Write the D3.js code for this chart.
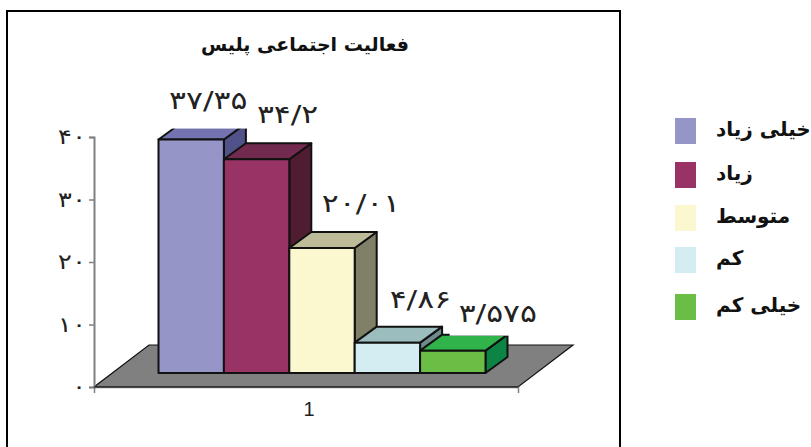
<!DOCTYPE html>
<html>
<head>
<meta charset="utf-8">
<script src="https://cdn.jsdelivr.net/npm/d3@7"></script>
<style>
  html, body { margin: 0; padding: 0; background: #fff; }
  svg { display: block; }
</style>
</head>
<body>
<svg width="811" height="447"></svg>
<script>
const title = 'فعالیت اجتماعی پلیس';
const categories = ['1'];
const series = ['خیلی زیاد', 'زیاد', 'متوسط', 'کم', 'خیلی کم'];
const values = [37.35, 34.2, 20.01, 4.86, 3.575];
const valueLabels = ['۳۷/۳۵', '۳۴/۲', '۲۰/۰۱', '۴/۸۶', '۳/۵۷۵'];
const yTicks = [0, 10, 20, 30, 40];
const yTickLabels = ['۰', '۱۰', '۲۰', '۳۰', '۴۰'];

const frontColors = ['#9595c8', '#993366', '#fbf8cf', '#d3edf3', '#6bbe45'];
const topColors = ['#7373b0', '#732a4f', '#bdbb98', '#9bbdbd', '#2fb34a'];
const sideColors = ['#52528a', '#4f1c32', '#807f68', '#6f8a8c', '#0b8444'];

const svg = d3.select('svg');
const font = '"DejaVu Sans", "Noto Sans", sans-serif';

const y = d3.scaleLinear().domain([0, 40]).range([387, 137]);
const x0 = d3.scaleBand().domain(categories).range([94, 518]);
const x = d3.scaleBand().domain(series).range([158.5, 485.5]);

// 3d offsets: floor depth, bar depth, lift of the bars above the axis
const floorDx = 55, floorDy = -42;
const barDx = 22, barDy = -16;
const lift = 14;

// the digits in the original are wider than DejaVu's, stretch them to fit
const stretch = function (sel, k) {
  sel.each(function () {
    d3.select(this)
      .attr('textLength', this.getComputedTextLength() * k)
      .attr('lengthAdjust', 'spacingAndGlyphs');
  });
};

svg.append('rect')
  .attr('x', 7).attr('y', 11)
  .attr('width', 613).attr('height', 445)
  .attr('fill', '#fff').attr('stroke', '#000').attr('stroke-width', 2);

svg.append('text')
  .attr('x', 305).attr('y', 51)
  .attr('text-anchor', 'middle')
  .attr('font-family', font).attr('font-weight', 'bold').attr('font-size', 19)
  .attr('fill', '#111')
  .text(title);

// floor
const [fx0, fx1] = x0.range();
const fy = y(0);
svg.append('path')
  .attr('d', `M${fx0},${fy}L${fx1},${fy}L${fx1 + floorDx},${fy + floorDy}L${fx0 + floorDx},${fy + floorDy}Z`)
  .attr('fill', '#808080').attr('stroke', '#111').attr('stroke-width', 1.2);

// axes
const axisLeft = d3.axisLeft(y)
  .tickValues(yTicks)
  .tickSize(5)
  .tickFormat((d, i) => yTickLabels[i]);
const gy = svg.append('g').attr('transform', `translate(${fx0},0)`).call(axisLeft);
gy.select('.domain').attr('stroke', '#808080').attr('stroke-width', 2);
gy.selectAll('.tick line').attr('stroke', '#808080').attr('stroke-width', 1.5);
gy.selectAll('.tick text')
  .attr('font-family', font).attr('font-size', 21).attr('fill', '#222')
  .call(stretch, 1.25);

const axisBottom = d3.axisBottom(x0).tickSize(0).tickSizeOuter(6).tickPadding(15);
const gx = svg.append('g').attr('transform', `translate(0,${fy})`).call(axisBottom);
gx.select('.domain').attr('stroke', '#808080').attr('stroke-width', 1.5);
gx.selectAll('.tick text')
  .attr('font-family', '"Liberation Sans", Arial, sans-serif')
  .attr('font-size', 20).attr('fill', '#222').attr('dx', 3);
svg.append('line')
  .attr('x1', fx0).attr('x2', fx1).attr('y1', fy).attr('y2', fy)
  .attr('stroke', '#111').attr('stroke-width', 1.2);

// bars, left to right so each one covers the side of the previous one
const bars = svg.append('g')
  .attr('stroke', '#111').attr('stroke-width', 2).attr('stroke-linejoin', 'round')
  .selectAll('g')
  .data(series)
  .enter()
  .append('g');

const left = d => x(d);
const right = d => x(d) + x.bandwidth();
const top_ = (d, i) => y(values[i]) - lift;
const base = y(0) - lift;

bars.append('path')
  .attr('fill', (d, i) => sideColors[i])
  .attr('d', (d, i) => `M${right(d)},${top_(d, i)}L${right(d) + barDx},${top_(d, i) + barDy}L${right(d) + barDx},${base + barDy}L${right(d)},${base}Z`);
bars.append('path')
  .attr('fill', (d, i) => topColors[i])
  .attr('d', (d, i) => `M${left(d)},${top_(d, i)}L${left(d) + barDx},${top_(d, i) + barDy}L${right(d) + barDx},${top_(d, i) + barDy}L${right(d)},${top_(d, i)}Z`);
bars.append('rect')
  .attr('fill', (d, i) => frontColors[i])
  .attr('x', left)
  .attr('y', top_)
  .attr('width', x.bandwidth())
  .attr('height', (d, i) => base - top_(d, i));

// value labels sit on white boxes that cut into the bars behind them
const labelNudgeX = [17, 31, 39, 33, 45];
const labelNudgeY = [-15, -20, -20, -19, -13];
const boxBelow = [20, 13, 13, 13, 14];
const boxPadLeft = [9, 5, 5, 5, 9];
const labelX = (d, i) => x(d) + x.bandwidth() / 2 + labelNudgeX[i];
const labelY = (d, i) => top_(d, i) + barDy + labelNudgeY[i];

const boxes = svg.append('g');
const labels = svg.append('g').selectAll('text')
  .data(series)
  .enter()
  .append('text')
  .attr('x', labelX)
  .attr('y', labelY)
  .attr('text-anchor', 'middle')
  .attr('direction', 'ltr')
  .attr('font-family', font).attr('font-size', 25)
  .attr('fill', '#222')
  .text((d, i) => valueLabels[i])
  .call(stretch, 1.26);

labels.each(function (d, i) {
  const b = this.getBBox();
  boxes.append('rect')
    .attr('x', b.x - boxPadLeft[i]).attr('y', b.y)
    .attr('width', b.width + boxPadLeft[i] + 5).attr('height', labelY(d, i) + boxBelow[i] - b.y)
    .attr('fill', '#fff');
});

// legend
const legendY = d3.scalePoint().domain(series).range([131, 307]);
const legendNudge = [0, 0, -1, -3, 0];
const legend = svg.append('g').selectAll('g')
  .data(series)
  .enter()
  .append('g')
  .attr('transform', (d, i) => `translate(675,${legendY(d) + legendNudge[i]})`);
legend.append('rect')
  .attr('y', -13).attr('width', 21).attr('height', 26)
  .attr('fill', (d, i) => frontColors[i]);
legend.append('text')
  .attr('x', 41).attr('y', 5)
  .attr('font-family', font).attr('font-weight', 'bold').attr('font-size', 20)
  .attr('fill', '#111')
  .text(d => d);
</script>
</body>
</html>
